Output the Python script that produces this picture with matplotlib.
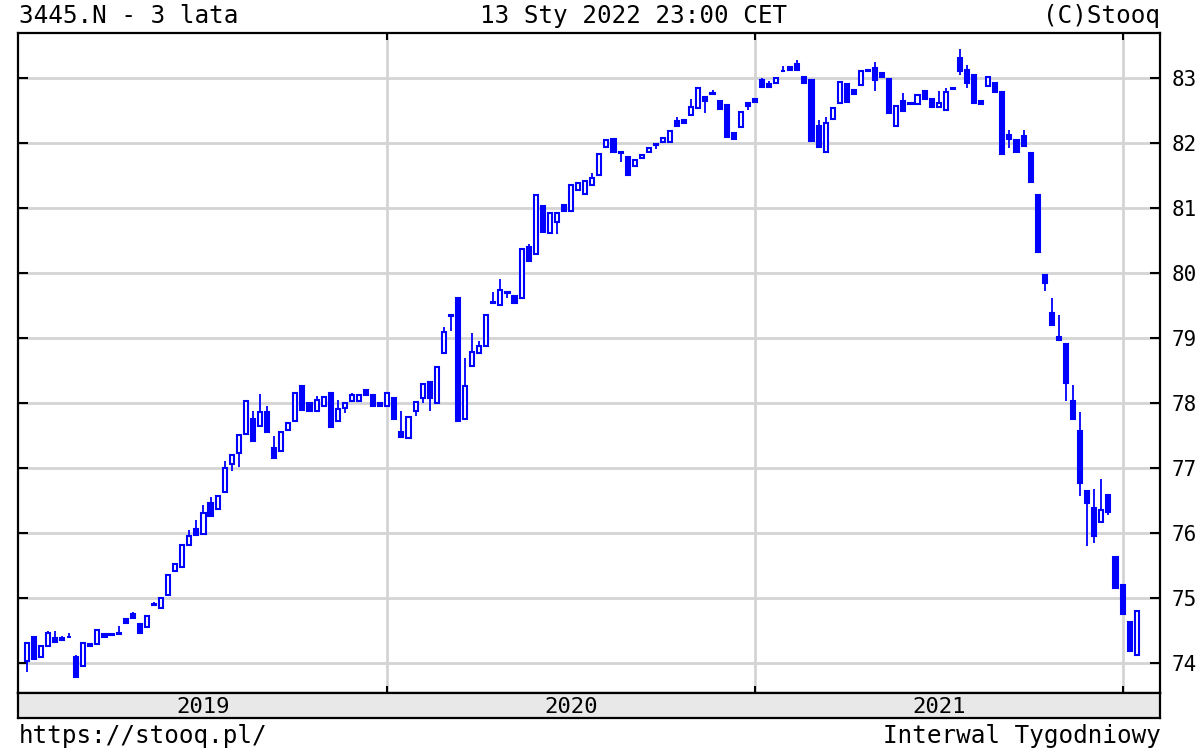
import numpy as np
import pandas as pd
import matplotlib
matplotlib.use("Agg")
import matplotlib.pyplot as plt

# weekly candles, 3445.N, Jan 2019 - Jan 2022
dates = pd.date_range("2019-01-11", periods=158, freq="7D")

opens = [
    74.03, 74.40, 74.09, 74.26, 74.38, 74.38, 74.40, 74.09, 73.95, 74.30,
    74.29, 74.45, 74.44, 74.46, 74.68, 74.75, 74.60, 74.55, 74.91, 74.85,
    75.05, 75.42, 75.48, 75.82, 76.06, 75.98, 76.46, 76.37, 76.63, 77.06,
    77.23, 77.52, 77.75, 77.65, 77.86, 77.31, 77.26, 77.58, 77.72, 78.26,
    78.00, 77.88, 77.95, 78.15, 77.72, 77.93, 78.03, 78.03, 78.20, 78.13,
    78.00, 77.95, 78.07, 77.55, 77.46, 77.88, 78.08, 78.32, 78.00, 78.77,
    79.36, 79.62, 77.76, 78.57, 78.77, 78.88, 79.56, 79.50, 79.70, 79.64,
    79.62, 80.40, 80.29, 81.03, 80.62, 80.79, 81.05, 80.95, 81.28, 81.22,
    81.35, 81.50, 81.94, 82.06, 81.86, 81.78, 81.65, 81.76, 81.86, 81.98,
    82.02, 82.02, 82.34, 82.35, 82.43, 82.53, 82.71, 82.76, 82.65, 82.58,
    82.15, 82.24, 82.62, 82.68, 82.97, 82.90, 82.92, 83.11, 83.17, 83.21,
    83.02, 82.97, 82.26, 81.86, 82.37, 82.62, 82.91, 82.82, 82.89, 83.12,
    83.15, 83.07, 82.98, 82.26, 82.64, 82.61, 82.60, 82.80, 82.68, 82.55,
    82.50, 82.84, 83.30, 83.12, 83.05, 82.64, 82.87, 82.92, 82.78, 82.12,
    82.05, 82.10, 81.85, 81.20, 79.97, 79.38, 79.02, 78.90, 78.03, 77.57,
    76.65, 76.38, 76.17, 76.58, 75.63, 75.20, 74.63, 74.12,
]
highs = [
    74.31, 74.40, 74.26, 74.50, 74.50, 74.42, 74.47, 74.12, 74.31, 74.30,
    74.51, 74.45, 74.44, 74.57, 74.68, 74.79, 74.60, 74.72, 74.94, 75.00,
    75.35, 75.52, 75.82, 76.05, 76.20, 76.43, 76.55, 76.57, 77.11, 77.20,
    77.51, 78.03, 77.87, 78.14, 77.95, 77.50, 77.55, 77.69, 78.15, 78.26,
    78.00, 78.10, 78.09, 78.15, 78.05, 78.00, 78.15, 78.12, 78.20, 78.13,
    78.00, 78.15, 78.07, 77.88, 77.80, 78.02, 78.29, 78.32, 78.55, 79.17,
    79.36, 79.62, 78.69, 79.07, 78.96, 79.35, 79.71, 79.90, 79.70, 79.64,
    80.37, 80.45, 81.20, 81.03, 80.92, 80.92, 81.05, 81.35, 81.38, 81.42,
    81.53, 81.83, 82.05, 82.06, 81.86, 81.78, 81.74, 81.82, 81.92, 81.98,
    82.08, 82.18, 82.40, 82.35, 82.68, 82.85, 82.71, 82.82, 82.65, 82.58,
    82.15, 82.48, 82.62, 82.68, 83.00, 82.95, 83.00, 83.18, 83.17, 83.28,
    83.02, 82.97, 82.35, 82.40, 82.54, 82.94, 82.91, 82.82, 83.11, 83.12,
    83.24, 83.07, 82.98, 82.57, 82.77, 82.61, 82.74, 82.80, 82.68, 82.80,
    82.85, 82.86, 83.45, 83.20, 83.05, 82.64, 83.02, 82.92, 82.78, 82.20,
    82.05, 82.20, 81.85, 81.20, 79.97, 79.62, 79.35, 78.90, 78.27, 77.86,
    76.65, 76.68, 76.83, 76.58, 75.63, 75.20, 74.63, 74.80,
]
lows = [
    73.86, 74.06, 74.09, 74.26, 74.32, 74.35, 74.40, 73.78, 73.95, 74.26,
    74.29, 74.40, 74.43, 74.45, 74.62, 74.69, 74.46, 74.55, 74.90, 74.85,
    75.05, 75.42, 75.48, 75.82, 75.97, 75.98, 76.26, 76.37, 76.63, 76.95,
    77.02, 77.52, 77.42, 77.65, 77.55, 77.15, 77.26, 77.58, 77.72, 77.89,
    77.88, 77.88, 77.95, 77.63, 77.72, 77.85, 78.03, 78.03, 78.12, 77.95,
    77.95, 77.95, 77.75, 77.48, 77.46, 77.80, 78.00, 77.88, 78.00, 78.77,
    79.10, 77.72, 77.76, 78.57, 78.77, 78.88, 79.54, 79.50, 79.62, 79.54,
    79.62, 80.18, 80.29, 80.63, 80.62, 80.60, 80.96, 80.95, 81.28, 81.22,
    81.35, 81.50, 81.94, 81.86, 81.70, 81.50, 81.65, 81.76, 81.86, 81.90,
    82.02, 82.02, 82.26, 82.30, 82.43, 82.53, 82.46, 82.75, 82.52, 82.09,
    82.06, 82.24, 82.50, 82.63, 82.86, 82.86, 82.92, 83.10, 83.12, 83.12,
    82.92, 82.03, 81.94, 81.86, 82.37, 82.62, 82.63, 82.75, 82.89, 83.11,
    82.80, 83.02, 82.46, 82.26, 82.49, 82.60, 82.60, 82.68, 82.55, 82.55,
    82.50, 82.83, 83.05, 82.85, 82.62, 82.60, 82.87, 82.78, 81.83, 81.92,
    81.86, 81.95, 81.40, 80.32, 79.72, 79.20, 78.97, 78.03, 77.75, 76.57,
    75.80, 75.85, 76.17, 76.28, 75.15, 74.75, 74.18, 74.12,
]
closes = [
    74.31, 74.06, 74.26, 74.46, 74.32, 74.35, 74.40, 73.78, 74.31, 74.27,
    74.51, 74.40, 74.43, 74.45, 74.62, 74.69, 74.46, 74.72, 74.90, 75.00,
    75.35, 75.52, 75.82, 75.95, 75.97, 76.31, 76.26, 76.57, 77.00, 77.20,
    77.51, 78.03, 77.42, 77.86, 77.55, 77.15, 77.55, 77.69, 78.15, 77.89,
    77.88, 78.05, 78.09, 77.63, 77.90, 78.00, 78.12, 78.12, 78.12, 77.95,
    77.95, 78.15, 77.75, 77.48, 77.78, 78.02, 78.29, 78.08, 78.55, 79.09,
    79.34, 77.72, 78.26, 78.78, 78.88, 79.35, 79.54, 79.73, 79.69, 79.54,
    80.37, 80.18, 81.20, 80.63, 80.92, 80.92, 80.96, 81.35, 81.38, 81.42,
    81.46, 81.83, 82.05, 81.86, 81.85, 81.50, 81.74, 81.82, 81.92, 81.97,
    82.08, 82.18, 82.26, 82.30, 82.55, 82.85, 82.65, 82.75, 82.52, 82.09,
    82.06, 82.48, 82.57, 82.63, 82.86, 82.86, 83.00, 83.10, 83.12, 83.12,
    82.92, 82.03, 81.94, 82.31, 82.54, 82.94, 82.63, 82.75, 83.11, 83.11,
    82.97, 83.02, 82.46, 82.57, 82.49, 82.60, 82.74, 82.68, 82.55, 82.62,
    82.78, 82.83, 83.10, 82.92, 82.62, 82.60, 83.02, 82.78, 81.83, 82.06,
    81.86, 81.95, 81.40, 80.32, 79.85, 79.20, 78.97, 78.30, 77.75, 76.77,
    76.46, 75.95, 76.35, 76.32, 75.15, 74.75, 74.18, 74.80,
]

yticks = [74, 75, 76, 77, 78, 79, 80, 81, 82, 83]
years = [2019, 2020, 2021]

BLUE = "#0000ff"
GRID = "#d4d4d4"
MONO = "DejaVu Sans Mono"

o = np.array(opens)
h = np.array(highs)
l = np.array(lows)
c = np.array(closes)
x = np.arange(len(dates))  # stooq spaces the candles evenly, one slot per week
up = c >= o

# year boundary = week whose Mon..Sun span holds 1 January
week_end = dates + pd.Timedelta(days=2)
xs = [int(np.argmax(week_end.year == y + 1)) for y in years]

fig = plt.figure(figsize=(12, 7.5), dpi=100)
ax = fig.add_axes([0.015, 0.076, 0.9517, 0.88])

x0, x1 = -1.23, 160.3
ax.set_xlim(x0, x1)
ax.set_ylim(73.54, 83.69)

# grid
for t in yticks:
    ax.axhline(t, color=GRID, lw=2, zorder=0)
for xv in xs:
    ax.axvline(xv, color=GRID, lw=2, zorder=0)

# candles
ax.vlines(x, l, h, color=BLUE, lw=1.3, zorder=2)
bottom = np.minimum(o, c)
height = np.abs(c - o)
ax.bar(x[up], height[up], bottom=bottom[up], width=0.58,
       facecolor="white", edgecolor=BLUE, linewidth=1.5, zorder=3)
ax.bar(x[~up], height[~up], bottom=bottom[~up], width=0.58,
       facecolor=BLUE, edgecolor=BLUE, linewidth=1.5, zorder=3)

ax.set_yticks(yticks)
ax.set_xticks(xs)
ax.set_xticklabels([])
ax.yaxis.tick_right()
ax.tick_params(axis="y", which="both", direction="in", length=7, width=1.5,
               left=True, right=True, labelleft=False, labelright=True,
               labelsize=15, pad=8)
ax.tick_params(axis="x", direction="in", length=5, width=1.5,
               top=True, bottom=True)
for lab in ax.get_yticklabels():
    lab.set_fontfamily(MONO)
for sp in ax.spines.values():
    sp.set_linewidth(1.6)

# year band under the chart
band = fig.add_axes([0.015, 0.0427, 0.9517, 0.0333])
band.set_xlim(x0, x1)
band.set_ylim(0, 1)
band.set_facecolor("#e8e8e8")
band.set_xticks([])
band.set_yticks([])
for sp in band.spines.values():
    sp.set_linewidth(1.6)
edges = [x0] + xs
for i, yr in enumerate(years):
    band.text((edges[i] + edges[i + 1]) / 2, 0.45, str(yr), ha="center", va="center",
              fontsize=16, family=MONO)

# header and footer
fig.text(0.016, 0.979, "3445.N - 3 lata", ha="left", va="center", fontsize=17.5, family=MONO)
fig.text(0.528, 0.979, "13 Sty 2022 23:00 CET", ha="center", va="center", fontsize=17.5, family=MONO)
fig.text(0.967, 0.979, "(C)Stooq", ha="right", va="center", fontsize=17.5, family=MONO)
fig.text(0.016, 0.019, "https://stooq.pl/", ha="left", va="center", fontsize=17.5, family=MONO)
fig.text(0.967, 0.019, "Interwal Tygodniowy", ha="right", va="center", fontsize=17.5, family=MONO)

fig.savefig("out.png", dpi=100)
